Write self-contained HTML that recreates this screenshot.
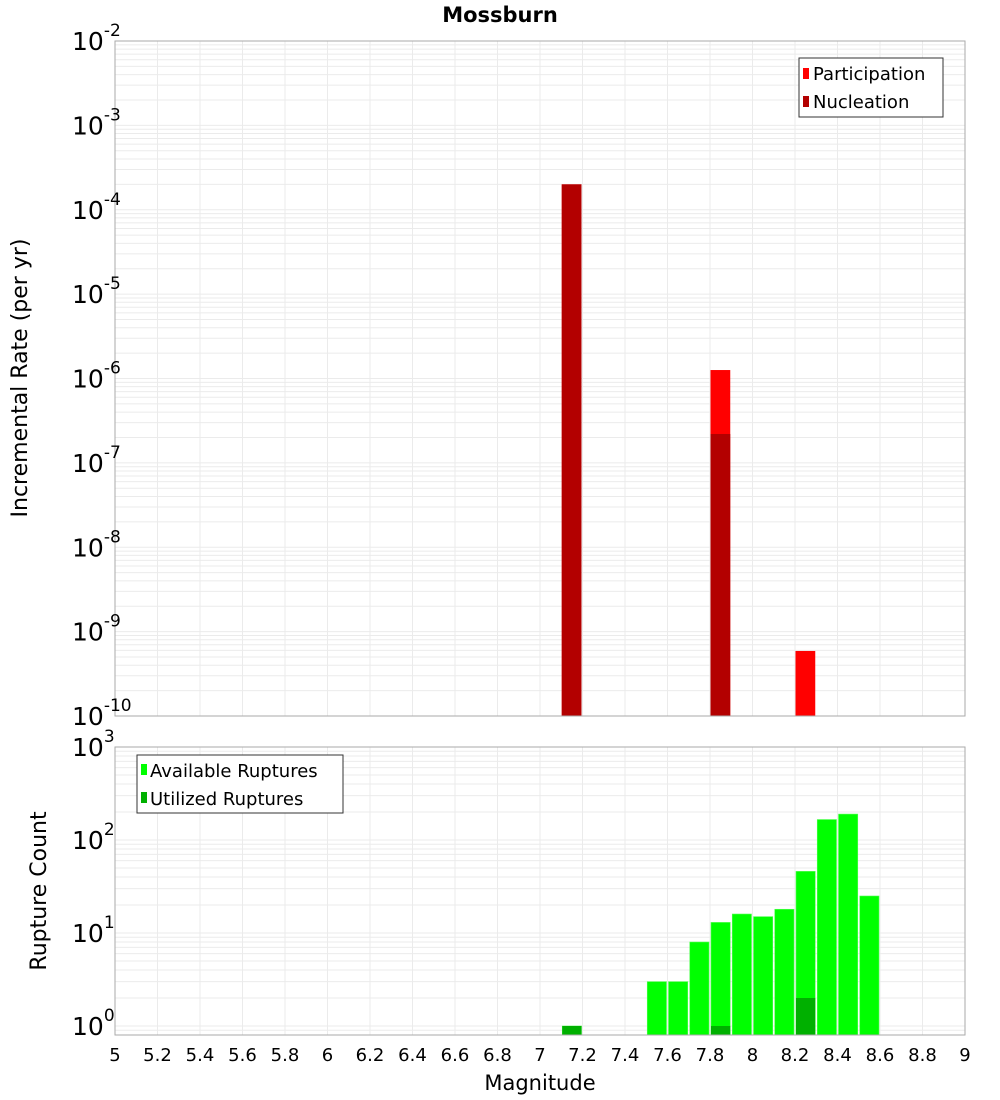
<!DOCTYPE html>
<html><head><meta charset="utf-8"><style>
body{margin:0;background:#fff;}
svg{display:block;font-family:"DejaVu Sans","Liberation Sans",sans-serif;}
</style></head><body>
<svg id="c" width="1000" height="1100" viewBox="0 0 1000 1100"></svg>
<script>
const mags = [7.15, 7.85, 8.25];
const participation = [2e-4, 1.26e-6, 5.9e-10];
const nucleation = [2e-4, 2.2e-7, 0];
const countMags = [7.15, 7.55, 7.65, 7.75, 7.85, 7.95, 8.05, 8.15, 8.25, 8.35, 8.45, 8.55];
const available = [1, 3, 3, 8, 13, 16, 15, 18, 46, 166, 190, 25];
const utilized = [1, 0, 0, 0, 1, 0, 0, 0, 2, 0, 0, 0];
const xTicks = [5,5.2,5.4,5.6,5.8,6,6.2,6.4,6.6,6.8,7,7.2,7.4,7.6,7.8,8,8.2,8.4,8.6,8.8,9];
const topExps = [-10,-9,-8,-7,-6,-5,-4,-3,-2];
const botExps = [0,1,2,3];

const NS="http://www.w3.org/2000/svg";
const svg=document.getElementById('c');
function el(t,a,p){const e=document.createElementNS(NS,t);for(const k in a)e.setAttribute(k,a[k]);(p||svg).appendChild(e);return e;}
const X0=115,X1=965;
const xs=v=>X0+(v-5)/(9-5)*(X1-X0);
const binW=0.1*(X1-X0)/4;
// top
const T0=41,T1=716;
const yT=v=>T1-(Math.log10(v)+10)/8*(T1-T0);
// bottom
const B0=747,B1=1035,BD=93,BZ=1026;
const yB=v=>BZ-Math.log10(v)*BD;

function grid(y0,y1,exps,ys,name){
  const g=el('g',{});
  
  
  xTicks.forEach(t=>el('line',{x1:xs(t),x2:xs(t),y1:y0,y2:y1,stroke:'#ebebeb','stroke-width':1},g));
  for(let i=0;i<exps.length;i++){
    for(let m=1;m<=9;m++){
      const y=ys(m*Math.pow(10,exps[i]));
      if(y<y0-0.5||y>y1+0.5)continue;
      el('line',{x1:X0,x2:X1,y1:y,y2:y,stroke:'#ebebeb','stroke-width':1},g);
    }
  }
  for(let m=1;m<=9;m++){const y=ys(m*Math.pow(10,exps[0]-1));if(y>=y0&&y<=y1)el('line',{x1:X0,x2:X1,y1:y,y2:y,stroke:'#ebebeb'},g);}
}
grid(T0,T1,topExps,yT,'top-grid');
grid(B0,B1,botExps,yB,'bottom-grid');

// top bars
mags.forEach((m,i)=>{
  const x=xs(m)-binW/2+0.5, w=binW-1.5;
  if(participation[i]>0){const r=el('rect',{x:x,y:yT(participation[i]),width:w,height:T1-yT(participation[i]),fill:'#ff0000'});
    }
  if(nucleation[i]>0){const r=el('rect',{x:x,y:yT(nucleation[i]),width:w,height:T1-yT(nucleation[i]),fill:'#b30000'});
    }
});
// bottom bars
countMags.forEach((m,i)=>{
  const x=xs(m)-binW/2+1, w=binW-2;
  if(available[i]>0){const r=el('rect',{x:x,y:yB(available[i]),width:w,height:B1-yB(available[i]),fill:'#00ff00',stroke:'#55ff55','stroke-width':0.6});
    }
  if(utilized[i]>0){const r=el('rect',{x:x,y:yB(utilized[i]),width:w,height:B1-yB(utilized[i]),fill:'#00b000'});
    }
});

// frames
let f=el('rect',{x:X0,y:T0,width:X1-X0,height:T1-T0,fill:'none',stroke:'#aaa'});

f=el('rect',{x:X0,y:B0,width:X1-X0,height:B1-B0,fill:'none',stroke:'#aaa'});


// y tick labels
function ylab(exp,y,name){
  const t=el('text',{x:108,y:y+9,'text-anchor':'end','font-size':25,fill:'#000'});
  
  t.appendChild(document.createTextNode('10'));
  const s=el('tspan',{dy:-14,'font-size':17},t);s.textContent=String(exp);
  t.setAttribute('x',72);t.setAttribute('text-anchor','start');
}
topExps.forEach(e=>ylab(e,yT(Math.pow(10,e)),'top-y-tick-label'));
botExps.forEach(e=>ylab(e,yB(Math.pow(10,e)),'bottom-y-tick-label'));
// x tick labels
xTicks.forEach(t=>{const e=el('text',{x:xs(t),y:1061,'text-anchor':'middle','font-size':18,fill:'#000'});
  e.textContent=String(t);});
</script>
<svg width="0" height="0"></svg>
<div style="position:absolute;left:0;top:0;width:1000px;height:1100px;pointer-events:none">
<svg width="1000" height="1100" style="position:absolute;left:0;top:0;font-family:'DejaVu Sans','Liberation Sans',sans-serif">
<text x="500" y="22" text-anchor="middle" font-size="21" font-weight="bold">Mossburn</text>
<text transform="translate(27,378) rotate(-90)" text-anchor="middle" font-size="22">Incremental Rate (per yr)</text>
<text transform="translate(46,891) rotate(-90)" text-anchor="middle" font-size="22">Rupture Count</text>
<text x="540" y="1090" text-anchor="middle" font-size="21">Magnitude</text>
<g>
<rect x="799" y="58" width="144" height="59" fill="#fff" stroke="#333"/>
<rect x="803" y="68" width="6" height="11" fill="#ff0000"/>
<text x="813" y="80" font-size="18">Participation</text>
<rect x="803" y="96" width="6" height="11" fill="#b30000"/>
<text x="813" y="108" font-size="18">Nucleation</text>
</g>
<g>
<rect x="137" y="755" width="206" height="58" fill="#fff" stroke="#333"/>
<rect x="141" y="764" width="6" height="11" fill="#00ff00"/>
<text x="150" y="777" font-size="18">Available Ruptures</text>
<rect x="141" y="792" width="6" height="11" fill="#00b000"/>
<text x="150" y="805" font-size="18">Utilized Ruptures</text>
</g>
</svg></div>
</body></html>
